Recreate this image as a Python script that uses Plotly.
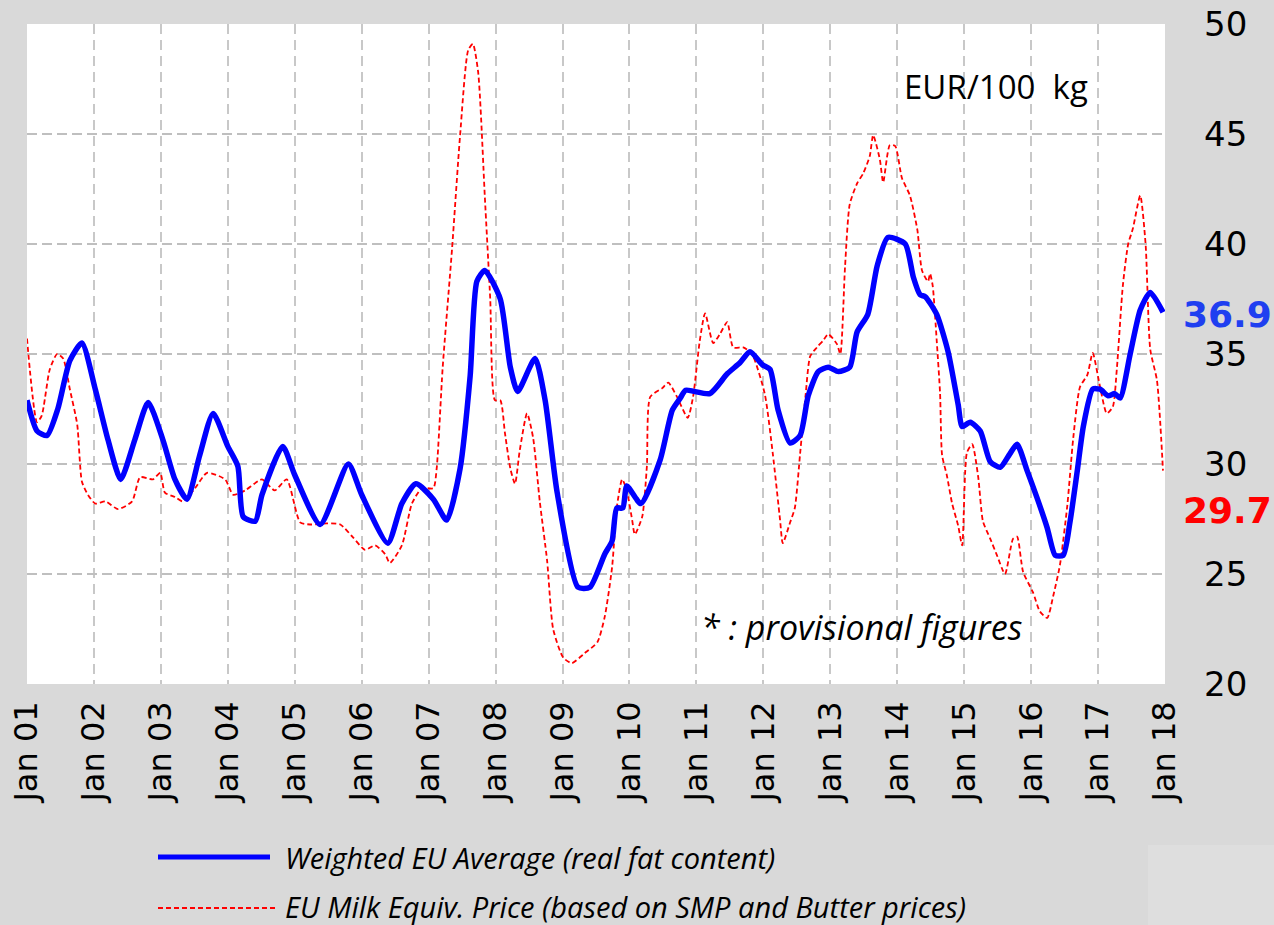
import plotly.graph_objects as go

# decimal years since Jan 2001 and values (EUR/100 kg)
blue_t = [0.00, 0.15, 0.30, 0.46, 0.64, 0.82, 1.02, 1.21, 1.40, 1.61, 1.81, 2.03, 2.21, 2.39, 2.58, 2.78,
          3.00, 3.15, 3.23, 3.41, 3.51, 3.82, 4.00, 4.38, 4.80, 5.00, 5.39, 5.60, 5.81, 6.07, 6.27, 6.47,
          6.62, 6.72, 6.84, 7.07, 7.22, 7.33, 7.59, 7.74, 7.92, 8.23, 8.41, 8.63, 8.74, 8.81, 8.90, 8.96,
          9.17, 9.46, 9.64, 9.76, 9.84, 10.20, 10.46, 10.65, 10.80, 10.99, 11.10, 11.22, 11.40, 11.55,
          11.67, 11.82, 11.97, 12.12, 12.29, 12.40, 12.56, 12.70, 12.86, 13.12, 13.24, 13.34, 13.42, 13.59,
          13.76, 13.91, 13.97, 14.09, 14.24, 14.39, 14.54, 14.68, 14.79, 14.94, 15.09, 15.24, 15.36, 15.48,
          15.58, 15.69, 15.78, 15.92, 16.03, 16.15, 16.25, 16.33, 16.48, 16.63, 16.78, 16.97]
blue_v = [32.9, 31.5, 31.3, 32.5, 34.7, 35.5, 33.4, 31.1, 29.3, 31.1, 32.8, 31.1, 29.3, 28.4, 30.4, 32.3,
          30.8, 29.9, 27.6, 27.4, 28.6, 30.8, 29.5, 27.25, 30.0, 28.6, 26.4, 28.2, 29.1, 28.4, 27.45, 29.8,
          34.0, 38.3, 38.8, 37.5, 34.4, 33.3, 34.8, 32.9, 28.7, 24.4, 24.4, 25.9, 26.5, 28.0, 28.0, 29.0,
          28.2, 30.2, 32.45, 33.0, 33.35, 33.2, 34.1, 34.6, 35.1, 34.5, 34.3, 32.45, 30.95, 31.3,
          33.1, 34.2, 34.4, 34.2, 34.4, 36.0, 36.8, 39.0, 40.3, 40.0, 38.5, 37.7, 37.6, 36.8,
          35.1, 32.7, 31.7, 31.9, 31.5, 30.1, 29.85, 30.45, 30.9, 29.7, 28.45, 27.1, 25.85, 25.85,
          27.35, 29.7, 31.7, 33.4, 33.4, 33.1, 33.2, 33.0, 35.0, 37.0, 37.8, 36.9]

red_t = [0.00, 0.15, 0.22, 0.34, 0.45, 0.54, 0.64, 0.75, 0.82, 0.91, 1.02, 1.17, 1.36, 1.57, 1.69, 1.88,
         1.99, 2.06, 2.21, 2.33, 2.51, 2.69, 2.96, 3.08, 3.26, 3.51, 3.70, 3.88, 4.08, 4.23, 4.48, 4.68,
         4.86, 5.05, 5.20, 5.35, 5.42, 5.60, 5.75, 5.90, 6.07, 6.12, 6.21, 6.35, 6.47, 6.59, 6.66, 6.74,
         6.84, 6.92, 6.99, 7.07, 7.14, 7.22, 7.29, 7.36, 7.47, 7.56, 7.66, 7.77, 7.86, 8.01, 8.14, 8.33,
         8.52, 8.63, 8.74, 8.81, 8.89, 8.96, 9.04, 9.08, 9.19, 9.26, 9.31, 9.49, 9.58, 9.71, 9.87, 9.95,
         10.05, 10.13, 10.25, 10.35, 10.46, 10.55, 10.70, 10.83, 11.02, 11.14, 11.25, 11.29, 11.40, 11.47,
         11.55, 11.63, 11.70, 11.80, 11.89, 11.97, 12.10, 12.15, 12.22, 12.29, 12.40, 12.49, 12.59, 12.64,
         12.74, 12.79, 12.89, 12.97, 13.07, 13.19, 13.30, 13.37, 13.46, 13.49, 13.53, 13.59, 13.64, 13.67,
         13.74, 13.82, 13.91, 13.97, 14.04, 14.12, 14.21, 14.28, 14.39, 14.49, 14.61, 14.73, 14.79, 14.88,
         15.03, 15.13, 15.24, 15.33, 15.43, 15.54, 15.63, 15.73, 15.84, 15.92, 16.03, 16.13, 16.22, 16.28,
         16.37, 16.45, 16.52, 16.63, 16.71, 16.78, 16.88, 16.97]
red_v = [35.7, 31.9, 32.2, 34.3, 35.0, 34.8, 33.4, 31.8, 29.2, 28.6, 28.2, 28.3, 27.95, 28.3, 29.4, 29.3,
         29.6, 28.7, 28.5, 28.3, 28.9, 29.6, 29.3, 28.6, 28.8, 29.3, 28.8, 29.3, 27.35, 27.25, 27.3, 27.25,
         26.7, 26.1, 26.3, 25.9, 25.5, 26.3, 28.2, 28.9, 28.9, 29.8, 34.4, 39.8, 44.95, 48.8, 49.1, 47.8,
         42.1, 37.5, 32.9, 32.9, 31.4, 29.8, 29.1, 30.6, 32.3, 31.2, 28.3, 25.6, 22.5, 21.2, 20.95, 21.4,
         21.9, 23.05, 25.3, 28.0, 29.3, 28.8, 27.45, 26.8, 27.6, 29.9, 33.05, 33.45, 33.7, 33.05, 32.1, 33.05,
         35.6, 36.85, 35.5, 35.9, 36.45, 35.3, 35.3, 35.0, 33.2, 30.5, 27.45, 26.4, 27.35, 28.0,
         30.5, 33.1, 34.9, 35.3, 35.6, 35.9, 35.45, 35.0, 38.95, 41.8, 42.75, 43.2, 44.0, 44.95,
         43.85, 42.8, 44.5, 44.45, 43.0, 42.2, 40.65, 38.8, 38.3, 38.65, 38.1, 35.6, 33.2, 30.4,
         29.5, 28.2, 27.2, 26.3, 30.5, 30.9, 29.4, 27.4, 26.6, 25.85, 25.0, 26.6, 26.7, 25.1,
         24.15, 23.3, 23.0, 24.0, 25.4, 28.1, 31.2, 33.5, 34.05, 35.05, 33.5, 32.3, 32.6, 34.3,
         38.1, 40.0, 40.7, 42.2, 40.0, 35.2, 33.8, 29.7]

start_year = 2001
tick_years = list(range(2001, 2019))
tick_labels = ["Jan %02d" % (y % 100) for y in tick_years]

blue_name = "Weighted EU Average (real fat content)"
red_name = "EU Milk Equiv. Price (based on SMP and Butter prices)"
last_blue = 36.9
last_red = 29.7

bx = [start_year + t for t in blue_t]
rx = [start_year + t for t in red_t]

fig = go.Figure()
fig.add_trace(go.Scatter(x=rx, y=red_v, mode="lines", name=red_name,
                         line=dict(color="#ff0000", width=1.8, dash="5px,3px", shape="spline", smoothing=0.6)))
fig.add_trace(go.Scatter(x=bx, y=blue_v, mode="lines", name=blue_name,
                         line=dict(color="#0000ff", width=5.5, shape="spline", smoothing=0.6)))

W, H = 1274, 925
L, R, T, B = 27, 109, 24, 241

fig.update_layout(
    width=W, height=H,
    margin=dict(l=L, r=R, t=T, b=B, autoexpand=False),
    paper_bgcolor="#d9d9d9",
    plot_bgcolor="#ffffff",
    showlegend=False,
    xaxis=dict(range=[2001, 2018], tickmode="array", tickvals=tick_years, ticktext=tick_labels,
               tickangle=-90, tickfont=dict(family="DejaVu Sans", size=32, color="#000000"),
               showgrid=True, gridcolor="#c8c8c8", griddash="10px,6px", gridwidth=2,
               zeroline=False, showline=False, ticks="", ticklabelstandoff=10,
               automargin=False, ticklabeloverflow="allow"),
    yaxis=dict(range=[20, 50], dtick=5, side="right",
               tickfont=dict(family="DejaVu Sans", size=34, color="#000000"),
               showgrid=True, gridcolor="#bfbfbf", griddash="10px,5px", gridwidth=2,
               zeroline=False, showline=False, ticks="", ticklabelstandoff=38,
               automargin=False, ticklabeloverflow="allow"),
)

# unit label and note
fig.add_annotation(text="EUR/100  kg", xref="paper", yref="paper", x=0.934, y=0.905,
                   xanchor="right", yanchor="middle", showarrow=False,
                   font=dict(family="Open Sans", size=33, color="#000000"))
fig.add_annotation(text="<i>* : provisional figures</i>", xref="paper", yref="y", x=0.876, y=22.6,
                   xanchor="right", yanchor="middle", showarrow=False,
                   font=dict(family="Open Sans", size=34, color="#000000"))

# last-value labels
fig.add_annotation(text="<b>%.1f</b>" % last_blue, xref="paper", yref="y", x=1.014, y=36.8,
                   xanchor="left", yanchor="middle", showarrow=False,
                   font=dict(family="DejaVu Sans", size=36, color="#1f3ff0"))
fig.add_annotation(text="<b>%.1f</b>" % last_red, xref="paper", yref="y", x=1.014, y=27.9,
                   xanchor="left", yanchor="middle", showarrow=False,
                   font=dict(family="DejaVu Sans", size=36, color="#ff0000"))

# custom legend (below chart)
def px_x(p):
    return (p - L) / (W - L - R)

def px_y(p):
    return (H - B - p) / (H - T - B)

fig.add_shape(type="rect", xref="paper", yref="paper", x0=px_x(1148), x1=px_x(1274), y0=px_y(925), y1=px_y(845),
              fillcolor="#dedede", line=dict(width=0), layer="below")
fig.add_shape(type="line", xref="paper", yref="paper", x0=px_x(158), x1=px_x(270), y0=px_y(857), y1=px_y(857),
              line=dict(color="#0000ff", width=5))
fig.add_shape(type="line", xref="paper", yref="paper", x0=px_x(158), x1=px_x(277), y0=px_y(908), y1=px_y(908),
              line=dict(color="#ff0000", width=1.8, dash="5px,3px"))
fig.add_annotation(text="<i>%s</i>" % blue_name, xref="paper", yref="paper", x=px_x(283), y=px_y(857),
                   xanchor="left", yanchor="middle", showarrow=False,
                   font=dict(family="Open Sans", size=29, color="#000000"))
fig.add_annotation(text="<i>%s</i>" % red_name, xref="paper", yref="paper", x=px_x(283), y=px_y(906),
                   xanchor="left", yanchor="middle", showarrow=False,
                   font=dict(family="Open Sans", size=29, color="#000000"))

fig.write_html("out.html", config={"displayModeBar": False},
               post_script="document.body.style.margin='0';document.body.style.overflow='hidden';")
